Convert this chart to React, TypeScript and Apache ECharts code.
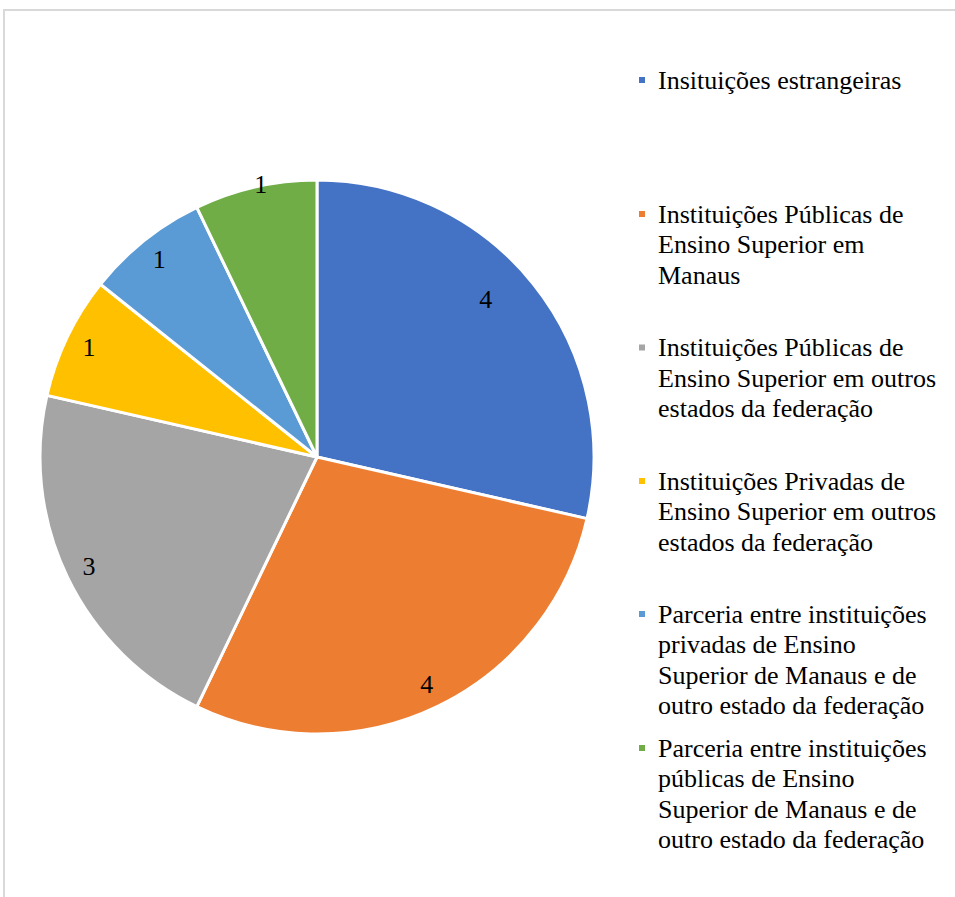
import React, { useEffect, useRef } from "react";
import * as echarts from "echarts";

// ---- data ----
const categories = [
  "Insituições estrangeiras",
  "Instituições Públicas de Ensino Superior em Manaus",
  "Instituições Públicas de Ensino Superior em outros estados da federação",
  "Instituições Privadas de Ensino Superior em outros estados da federação",
  "Parceria entre instituições privadas de Ensino Superior de Manaus e de outro estado da federação",
  "Parceria entre instituições públicas de Ensino Superior de Manaus e de outro estado da federação",
];
const values = [4, 4, 3, 1, 1, 1];
const legendLines = [
  ["Insituições estrangeiras"],
  ["Instituições Públicas de", "Ensino Superior em", "Manaus"],
  ["Instituições Públicas de", "Ensino Superior em outros", "estados da federação"],
  ["Instituições Privadas de", "Ensino Superior em outros", "estados da federação"],
  ["Parceria entre instituições", "privadas de Ensino", "Superior de Manaus e de", "outro estado da federação"],
  ["Parceria entre instituições", "públicas de Ensino", "Superior de Manaus e de", "outro estado da federação"],
];
const colors = ["#4472C4", "#ED7D31", "#A5A5A5", "#FFC000", "#5B9BD5", "#70AD47"];

// ---- layout / style ----
const FONT = '"Liberation Serif", "Times New Roman", serif';
const FS = 26;
const LH = 30.5;
const legendFirstLineY = [80, 214, 347.5, 481, 614, 748];
const labelNudge: [number, number][] = [[-29, 0], [0, 0], [0, 0], [0, 0], [0, 0], [0, -26]];

export default function App() {
  const ref = useRef<HTMLDivElement>(null);
  useEffect(() => {
    if (!ref.current) return;
    const chart = echarts.init(ref.current, null, { renderer: "svg" });
    const legends = categories.map((name, i) => {
      const lines = legendLines[i];
      const n = lines.length;
      // leading blank lines keep the marker level with the first text line
      const text = new Array(n - 1).fill("").concat(lines).join("\n");
      return {
        data: [name],
        left: 637,
        top: legendFirstLineY[i] - (n - 0.5) * LH,
        orient: "vertical",
        icon: "rect",
        itemWidth: 8,
        itemHeight: 8,
        padding: 0,
        selectedMode: false,
        formatter: () => text,
        textStyle: {
          fontFamily: FONT,
          fontSize: FS,
          lineHeight: LH,
          color: "#000",
          padding: [0, 0, 0, 7],
        },
      };
    });
    chart.setOption({
      animation: false,
      backgroundColor: "#fff",
      color: colors,
      graphic: [
        {
          type: "rect",
          shape: { x: 4, y: 10, width: 1200, height: 1200 },
          style: { fill: "none", stroke: "#d9d9d9", lineWidth: 2 },
          silent: true,
        },
      ],
      legend: legends,
      series: [
        {
          type: "pie",
          center: [317, 457],
          radius: [0, 277],
          startAngle: 90,
          clockwise: true,
          silent: true,
          itemStyle: { borderColor: "#fff", borderWidth: 3 },
          label: { show: false },
          labelLine: { show: false },
          data: categories.map((name, i) => ({ name, value: values[i] })),
        },
        {
          type: "pie",
          center: [317, 457],
          radius: [200, 300],
          startAngle: 90,
          clockwise: true,
          silent: true,
          legendHoverLink: false,
          itemStyle: { color: "rgba(0,0,0,0)", borderWidth: 0 },
          label: {
            show: true,
            position: "inside",
            formatter: "{c}",
            fontFamily: FONT,
            fontSize: FS,
            color: "#000",
          },
          labelLine: { show: false },
          data: categories.map((name, i) => ({
            name,
            value: values[i],
            label: { offset: labelNudge[i] },
          })),
        },
      ],
    });
    return () => chart.dispose();
  }, []);
  return (
    <div
      ref={ref}
      style={{ position: "absolute", left: 0, top: 0, width: 955, height: 897 }}
    />
  );
}
